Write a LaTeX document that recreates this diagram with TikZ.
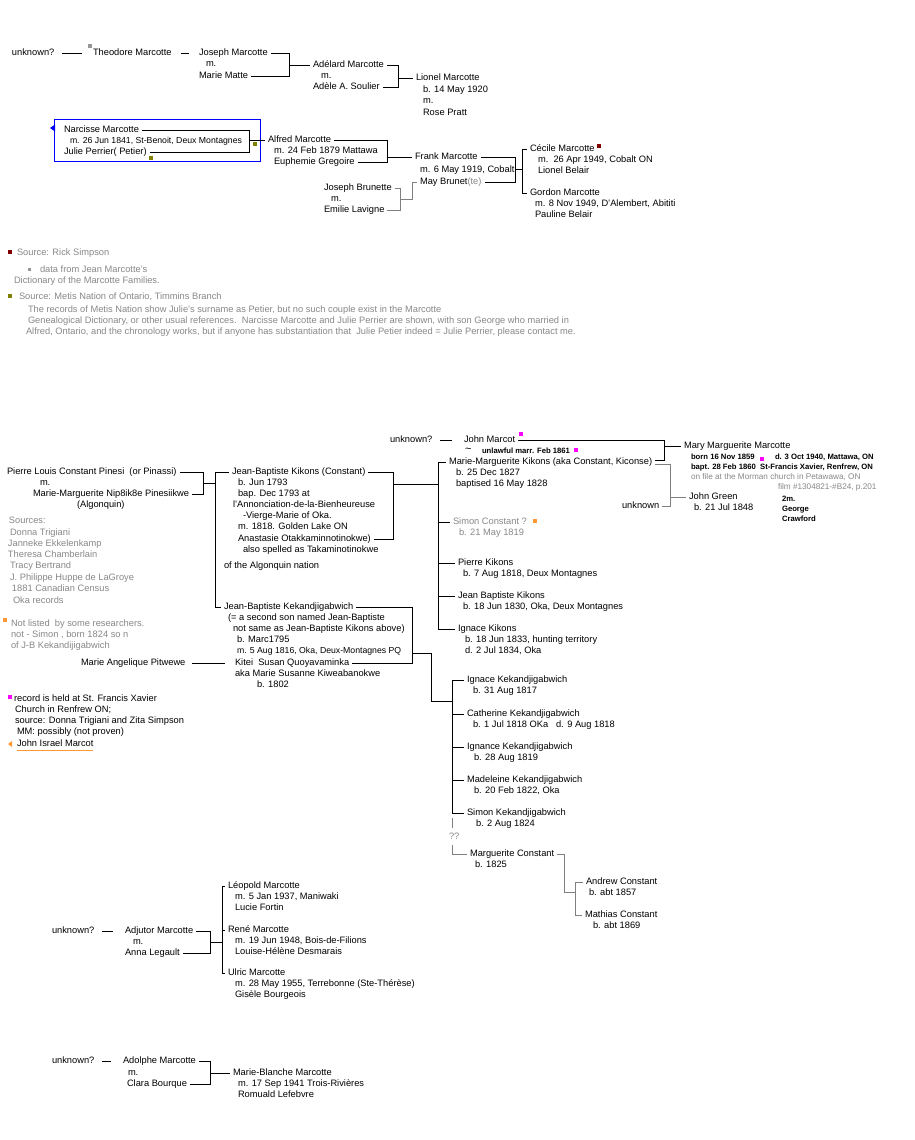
\documentclass[tikz,border=0pt]{standalone}
\usepackage{fontspec}
\setmainfont{Liberation Sans}
\usetikzlibrary{calc}
\definecolor{tg}{RGB}{136,136,136}
\definecolor{lg}{RGB}{128,128,128}
\definecolor{dred}{RGB}{128,0,0}
\definecolor{olv}{RGB}{128,128,0}
\definecolor{mag}{RGB}{255,0,255}
\definecolor{org}{RGB}{255,153,51}
\definecolor{sqg}{RGB}{150,150,150}
\definecolor{bl}{RGB}{0,0,255}
\tikzset{
  t/.style={anchor=west, inner sep=0pt, outer xsep=3pt, outer ysep=0pt, xshift=-3pt,
            text height=6.8pt, text depth=2pt, font=\fontsize{9.3}{11}\selectfont},
  nar/.style={font=\fontsize{8.7}{11}\selectfont},
  sm/.style={font=\fontsize{7.7}{9}\selectfont\bfseries},
  smr/.style={font=\fontsize{8.2}{9}\selectfont},
  gr/.style={text=tg},
  ln/.style={line width=0.9pt, draw=black},
  gln/.style={line width=0.9pt, draw=lg},
}
\begin{document}
\begin{tikzpicture}[x=1pt,y=-1pt]
\path[use as bounding box, fill=white] (0,0) rectangle (914,1140);

% ---------------- top: Theodore line ----------------
\node[t] (u1) at (12,53) {unknown?};
\node[t] (theo) at (93,53) {Theodore Marcotte};
\fill[sqg] (88,44) rectangle (92,48);
\draw[ln, shorten <=5pt, shorten >=8pt] (u1.east) -- (theo.west);
\node[t] (jos) at (199,53) {Joseph Marcotte};
\draw[ln, shorten <=6pt, shorten >=7pt] (theo.east) -- (jos.west);
\node[t] (josm) at (206,64.5) {m.};
\node[t] (mm) at (199,76) {Marie Matte};
\coordinate (x1) at (289,0);
\draw[ln] (jos.east) -- (jos.east -| x1) |- (mm.east);
\node[t] (ade) at (313,65) {Adélard Marcotte};
\draw[ln] (ade.west -| x1) -- (ade.west);
\node[t] (adem) at (321,76) {m.};
\node[t] (adele) at (313,87) {Adèle A. Soulier};
\coordinate (x2) at (398,0);
\draw[ln] (ade.east) -- (ade.east -| x2) |- (adele.east);
\node[t] (lio) at (416,78) {Lionel Marcotte};
\draw[ln] (lio.west -| x2) -- (lio.west);
\node[t] (lio1) at (423,90) {b. 14 May 1920};
\node[t] (lio2) at (423,101) {m.};
\node[t] (lio3) at (423,113) {Rose Pratt};

% ---------------- Narcisse box ----------------
\draw[bl, line width=0.9pt] (54,119) rectangle (260,161);
\fill[bl] (50,128) -- (55,124.5) -- (55,131.5) -- cycle;
\node[t] (nar) at (64,130) {Narcisse Marcotte};
\node[t,nar] (nar1) at (70,141) {m. 26 Jun 1841, St-Benoit, Deux Montagnes};
\node[t] (jul) at (64,152) {Julie Perrier( Petier)};
\coordinate (x3) at (249,0);
\draw[ln] (nar.east) -- (nar.east -| x3) |- (jul.east);
\fill[olv] (253,142) rectangle (257,146);
\fill[olv] (149,156) rectangle (153,160);
\node[t] (alf) at (268,140) {Alfred Marcotte};
\draw[ln] (alf.west -| x3) -- (alf.west);
\node[t] (alf1) at (274,151) {m. 24 Feb 1879 Mattawa};
\node[t] (eup) at (274,162) {Euphemie Gregoire};
\coordinate (x4) at (387,0);
\draw[ln] (alf.east) -- (alf.east -| x4) |- (eup.east);
\node[t] (frank) at (415,157) {Frank Marcotte};
\draw[ln] (frank.west -| x4) -- (frank.west);
\node[t] (fr1) at (420,170) {m. 6 May 1919, Cobalt};
\node[t] (may) at (420,182) {May Brunet{\color{tg}(te)}};
\coordinate (x5) at (515,0);
\draw[ln] (frank.east) -- (frank.east -| x5) |- (may.east);
\draw[ln] (515,169) -- (522,169);
\coordinate (x6) at (522,0);
\node[t] (cec) at (530,149) {Cécile Marcotte};
\fill[dred] (597,144) rectangle (601,148);
\node[t] (cec1) at (538,160) {m.\ \ 26 Apr 1949, Cobalt ON};
\node[t] (cec2) at (538,171) {Lionel Belair};
\node[t] (gor) at (530,193) {Gordon Marcotte};
\node[t] (gor1) at (535,204) {m. 8 Nov 1949, D'Alembert, Abititi};
\node[t] (gor2) at (535,215) {Pauline Belair};
\draw[ln] (cec.west) -- (cec.west -| x6) -- (gor.west -| x6) -- (gor.west);

% Brunette
\node[t] (jbr) at (324,188) {Joseph Brunette};
\node[t] (jbrm) at (331,199) {m.};
\node[t] (emi) at (324,210) {Emilie Lavigne};
\coordinate (x5b) at (400,0);
\draw[gln] (jbr.east) -- (jbr.east -| x5b) |- (emi.east);
\coordinate (x5c) at (412,0);
\draw[gln] (400,199) -- (412,199) -- (may.west -| x5c) -- (may.west);

% ---------------- sources ----------------
\fill[dred] (8,250) rectangle (12,254);
\node[t,gr] (src1) at (17,253) {Source: Rick Simpson};
\fill[sqg] (28,268) rectangle (31,271);
\node[t,gr] (src2) at (40,270) {data from Jean Marcotte's};
\node[t,gr] (src3) at (14,281) {Dictionary of the Marcotte Families.};
\fill[olv] (8,294) rectangle (12,298);
\node[t,gr] (src4) at (19,297) {Source: Metis Nation of Ontario, Timmins Branch};
\node[t,gr] (src5) at (28,310) {The records of Metis Nation show Julie's surname as Petier, but no such couple exist in the Marcotte};
\node[t,gr] (src6) at (28,321) {Genealogical Dictionary, or other usual references.\ \ Narcisse Marcotte and Julie Perrier are shown, with son George who married in};
\node[t,gr] (src7) at (26,332) {Alfred, Ontario, and the chronology works, but if anyone has substantiation that\ \ Julie Petier indeed = Julie Perrier, please contact me.};

% ---------------- John Marcot ----------------
\node[t] (u2) at (390,440) {unknown?};
\node[t] (jmc) at (464,440) {John Marcot};
\draw[ln, shorten <=5pt, shorten >=9pt] (u2.east) -- (jmc.west);
\fill[mag] (519,432) rectangle (523,436);
\node[t, font=\fontsize{11}{11}\selectfont, text height=3pt, text depth=0pt] (tld) at (465,451) {\textasciitilde};
\node[t,sm] (unl) at (482,451) {unlawful marr. Feb 1861};
\fill[mag] ($(unl.east)+(1,-3)$) rectangle ++(4,4);
\node[t] (mmk) at (449,462) {Marie-Marguerite Kikons (aka Constant, Kiconse)};
\node[t] (mmk1) at (456,473) {b. 25 Dec 1827};
\node[t] (mmk2) at (456,484) {baptised 16 May 1828};
\coordinate (x14) at (664,0);
\draw[ln] (jmc.east) -- (jmc.east -| x14) -- ($(mmk.east -| x14)+(0,-2)$) -- ($(mmk.east)+(0,-2)$);
\node[t] (mary) at (684,446) {Mary Marguerite Marcotte};
\draw[ln] (mary.west -| x14) -- (mary.west);
\node[t,sm] (mary1) at (691,457) {born 16 Nov 1859};
\fill[mag] (760,457) rectangle (764,461);
\node[t,sm] (mary1b) at (775,457) {d. 3 Oct 1940, Mattawa, ON};
\node[t,sm] (mary2) at (691,467) {bapt. 28 Feb 1860\ \ St-Francis Xavier, Renfrew, ON};
\node[t,smr,gr] (mary3) at (691,477) {on file at the Morman church in Petawawa, ON};
\node[t,smr,gr] (mary4) at (778,487) {film \#1304821-\#B24, p.201};
\node[t] (jg) at (689,497) {John Green};
\node[t] (jg1) at (694,508) {b. 21 Jul 1848};
\node[t] (unk3) at (622,506) {unknown};
\node[t,sm] (cr1) at (782,499) {2m.};
\node[t,sm] (cr2) at (782,509) {George};
\node[t,sm] (cr3) at (782,519) {Crawford};
\coordinate (x15) at (670,0);
\draw[gln] ($(mmk.east)+(0,2)$) -- ($(mmk.east -| x15)+(0,2)$) -- (unk3.east -| x15) -- (unk3.east);
\draw[gln] (jg.west -| x15) -- (jg.west);

% ---------------- Pierre Louis ----------------
\node[t] (pie) at (7,472) {Pierre Louis Constant Pinesi\ \ (or Pinassi)};
\node[t] (piem) at (40,483) {m.};
\node[t] (mmn) at (33,494) {Marie-Marguerite Nip8ik8e Pinesiikwe};
\node[t] (alg) at (77,505) {(Algonquin)};
\coordinate (x7a) at (203,0);
\draw[ln] (pie.east) -- (pie.east -| x7a) |- (mmn.east);
\draw[ln] (203,483) -- (215,483);
\coordinate (x7) at (215,0);

\node[t] (jbk) at (232,472) {Jean-Baptiste Kikons (Constant)};
\node[t] (jbk1) at (238,483) {b. Jun 1793};
\node[t] (jbk2) at (238,494) {bap. Dec 1793 at};
\node[t] (jbk3) at (233,505) {l'Annonciation-de-la-Bienheureuse};
\node[t] (jbk4) at (243,516) {-Vierge-Marie of Oka.};
\node[t] (jbk5) at (238,527) {m. 1818. Golden Lake ON};
\node[t] (ana) at (238,539) {Anastasie Otakkaminnotinokwe)};
\node[t] (ana1) at (243,550) {also spelled as Takaminotinokwe};
\node[t] (algn) at (224,566) {of the Algonquin nation};
\coordinate (x8) at (393,0);
\draw[ln] (jbk.east) -- (jbk.east -| x8) |- (ana.east);
\draw[ln] (393,484) -- (438,484);
\coordinate (x9) at (438,0);

\node[t] (jke) at (224,607) {Jean-Baptiste Kekandjigabwich};
\draw[ln] (jbk.west) -- (jbk.west -| x7) -- (jke.west -| x7) -- (jke.west);

% children of JB Kikons
\node[t,gr] (sim) at (453,522) {Simon Constant ?};
\fill[org] (533,519) rectangle (537,523);
\node[t,gr] (sim1) at (459,533) {b. 21 May 1819};
\node[t] (pk) at (458,563) {Pierre Kikons};
\node[t] (pk1) at (463,574) {b. 7 Aug 1818, Deux Montagnes};
\node[t] (jb6) at (458,596) {Jean Baptiste Kikons};
\node[t] (jb61) at (463,607) {b. 18 Jun 1830, Oka, Deux Montagnes};
\node[t] (ik) at (458,629) {Ignace Kikons};
\node[t] (ik1) at (465,640) {b. 18 Jun 1833, hunting territory};
\node[t] (ik2x) at (465,651) {d. 2 Jul 1834, Oka};
\draw[ln] (mmk.west) -- (mmk.west -| x9) -- (ik.west -| x9) -- (ik.west);
\draw[ln] (sim.west -| x9) -- (sim.west);
\draw[ln] (pk.west -| x9) -- (pk.west);
\draw[ln] (jb6.west -| x9) -- (jb6.west);

% Kekandjigabwich couple
\node[t] (jke1) at (228,618) {(= a second son named Jean-Baptiste};
\node[t] (jke2) at (233,629) {not same as Jean-Baptiste Kikons above)};
\node[t] (jke3) at (237,640) {b. Marc1795};
\node[t,nar] (jke4) at (237,651) {m. 5 Aug 1816, Oka, Deux-Montagnes PQ};
\node[t] (kit) at (235,663) {Kitei\ \ Susan Quoyavaminka};
\node[t] (kit1) at (235,674) {aka Marie Susanne Kiweabanokwe};
\node[t] (kit2) at (257,685) {b. 1802};
\coordinate (x10) at (412,0);
\draw[ln] (jke.east) -- (jke.east -| x10) |- (kit.east);
\draw[ln] (412,653) -- (431,653) -- (431,701) -- (452,701);
\node[t] (mapi) at (81,663) {Marie Angelique Pitwewe};
\draw[ln, shorten <=4pt, shorten >=7pt] (mapi.east) -- (kit.west);

% children of Kekandjigabwich
\coordinate (x11) at (452,0);
\node[t] (ke1) at (467,680) {Ignace Kekandjigabwich};
\node[t] (ke1b) at (473,691) {b. 31 Aug 1817};
\node[t] (ke2) at (467,714) {Catherine Kekandjigabwich};
\node[t] (ke2b) at (473,725) {b. 1 Jul 1818 OKa\ \ \ d. 9 Aug 1818};
\node[t] (ke3) at (467,747) {Ignance Kekandjigabwich};
\node[t] (ke3b) at (474,758) {b. 28 Aug 1819};
\node[t] (ke4) at (467,780) {Madeleine Kekandjigabwich};
\node[t] (ke4b) at (474,791) {b. 20 Feb 1822, Oka};
\node[t] (ke5) at (467,813) {Simon Kekandjigabwich};
\node[t] (ke5b) at (476,824) {b. 2 Aug 1824};
\draw[ln] (ke1.west) -- (ke1.west -| x11) -- (ke5.west -| x11) -- (ke5.west);
\draw[ln] (ke2.west -| x11) -- (ke2.west);
\draw[ln] (ke3.west -| x11) -- (ke3.west);
\draw[ln] (ke4.west -| x11) -- (ke4.west);
\draw[gln] (452,818) -- (452,828);
\node[t,gr] (qq) at (449,837) {??};
\node[t] (marg) at (470,854) {Marguerite Constant};
\node[t] (marg1) at (475,865) {b. 1825};
\draw[gln] (452,845) |- (marg.west);
\coordinate (x12) at (564,0);
\coordinate (x13) at (575,0);
\draw[gln] (marg.east) -- (marg.east -| x12) -- (564,892) -- (575,892);
\node[t] (andr) at (586,882) {Andrew Constant};
\node[t] (andr1) at (589,893) {b. abt 1857};
\node[t] (math) at (585,915) {Mathias Constant};
\node[t] (math1) at (593,926) {b. abt 1869};
\draw[gln] (andr.west) -- (andr.west -| x13) -- (math.west -| x13) -- (math.west);

% ---------------- left notes ----------------
\node[t,gr] (so0) at (9,521) {Sources:};
\node[t,gr] (so1) at (10,533) {Donna Trigiani};
\node[t,gr] (so2) at (8,544) {Janneke Ekkelenkamp};
\node[t,gr] (so3) at (8,555) {Theresa Chamberlain};
\node[t,gr] (so4) at (10,566) {Tracy Bertrand};
\node[t,gr] (so5) at (10,578) {J. Philippe Huppe de LaGroye};
\node[t,gr] (so6) at (12,589) {1881 Canadian Census};
\node[t,gr] (so7) at (13,601) {Oka records};
\fill[org] (3,618) rectangle (7,622);
\node[t,gr] (nl1) at (11,624) {Not listed\ \ by some researchers.};
\node[t,gr] (nl2) at (11,635) {not - Simon , born 1824 so n};
\node[t,gr] (nl3) at (11,646) {of J-B Kekandijigabwich};
\fill[mag] (8,695) rectangle (12,699);
\node[t] (rc1) at (14,699) {record is held at St. Francis Xavier};
\node[t] (rc2) at (15,710) {Church in Renfrew ON;};
\node[t] (rc3) at (15,721) {source: Donna Trigiani and Zita Simpson};
\node[t] (rc4) at (17,732) {MM: possibly (not proven)};
\fill[org] (8,744) -- (12,741) -- (12,747) -- cycle;
\node[t] (jim) at (17,744) {John Israel Marcot};
\draw[org, line width=0.9pt] ([xshift=3pt,yshift=-2pt]jim.south west) -- ([xshift=-3pt,yshift=-2pt]jim.south east);

% ---------------- Adjutor ----------------
\node[t] (u4) at (52,931) {unknown?};
\node[t] (adj) at (125,931) {Adjutor Marcotte};
\draw[ln, shorten <=5pt, shorten >=9pt] (u4.east) -- (adj.west);
\node[t] (adjm) at (133,942) {m.};
\node[t] (anna) at (125,953) {Anna Legault};
\coordinate (x16) at (210,0);
\draw[ln] (adj.east) -- (adj.east -| x16) |- (anna.east);
\draw[ln] (210,942) -- (222,942);
\coordinate (x17) at (222,0);
\node[t] (leo) at (228,886) {Léopold Marcotte};
\node[t] (leo1) at (235,897) {m. 5 Jan 1937, Maniwaki};
\node[t] (leo2) at (235,908) {Lucie Fortin};
\node[t] (ren) at (228,930) {René Marcotte};
\node[t] (ren1) at (235,941) {m. 19 Jun 1948, Bois-de-Filions};
\node[t] (ren2) at (235,952) {Louise-Hélène Desmarais};
\node[t] (ulr) at (228,973) {Ulric Marcotte};
\node[t] (ulr1) at (235,984) {m. 28 May 1955, Terrebonne (Ste-Thérèse)};
\node[t] (ulr2) at (235,995) {Gisèle Bourgeois};
\draw[ln] (leo.west) -- (leo.west -| x17) -- (ulr.west -| x17) -- (ulr.west);
\draw[ln] (ren.west -| x17) -- (ren.west);

% ---------------- Adolphe ----------------
\node[t] (u5) at (52,1061) {unknown?};
\node[t] (adol) at (123,1061) {Adolphe Marcotte};
\draw[ln, shorten <=5pt, shorten >=9pt] (u5.east) -- (adol.west);
\node[t] (adolm) at (128,1073) {m.};
\node[t] (clara) at (127,1084) {Clara Bourque};
\draw[ln] (adol.east) -- (adol.east -| x16) |- (clara.east);
\node[t] (mb) at (233,1073) {Marie-Blanche Marcotte};
\node[t] (mb1) at (238,1084) {m. 17 Sep 1941 Trois-Rivières};
\node[t] (mb2) at (238,1095) {Romuald Lefebvre};
\draw[ln] (mb.west -| x16) -- (mb.west);
\end{tikzpicture}
\end{document}
